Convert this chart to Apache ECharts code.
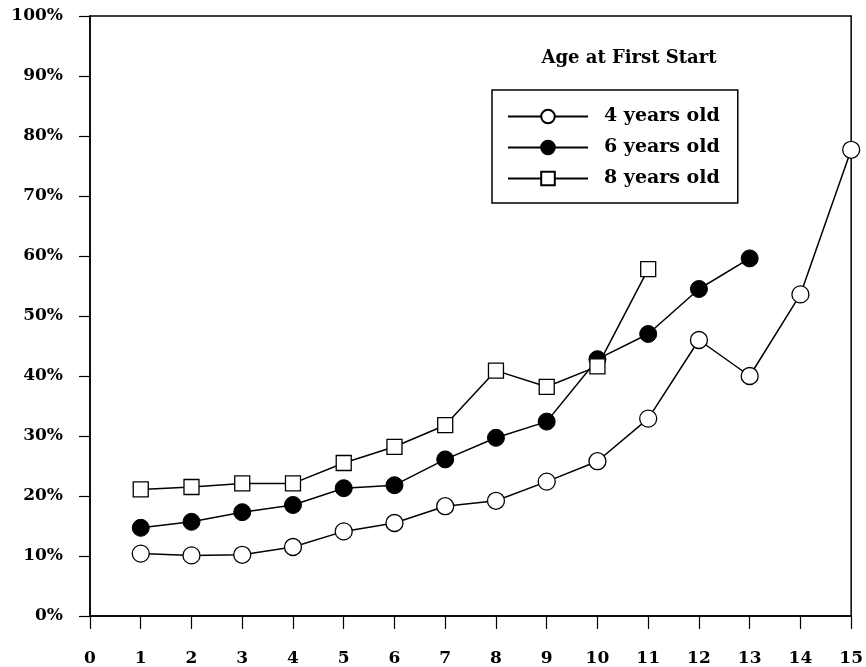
<!DOCTYPE html>
<html>
<head>
<meta charset="UTF-8">
<title>Age at First Start</title>
<script src="https://cdn.jsdelivr.net/npm/echarts@6/dist/echarts.min.js"></script>
</head>
<body style="margin:0;background:#fff">
<div id="main" style="width: 866px; height: 667px;"></div>
<script type="text/javascript">
// x positions (1..15)
var xValues = [1, 2, 3, 4, 5, 6, 7, 8, 9, 10, 11, 12, 13, 14, 15];
// percent values
var age4 = [10.4, 10.1, 10.2, 11.5, 14.1, 15.5, 18.3, 19.2, 22.4, 25.8, 32.9, 46.0, 40.0, 53.6, 77.7];
var age6 = [14.7, 15.7, 17.3, 18.5, 21.3, 21.8, 26.1, 29.7, 32.4, 42.8, 47.0, 54.5, 59.6];
var age8 = [21.1, 21.5, 22.1, 22.1, 25.5, 28.2, 31.8, 40.9, 38.2, 41.6, 57.8];
var seriesNames = ['4 years old', '6 years old', '8 years old'];

function pairs(vals) {
	var out = [];
	for (var i = 0; i < vals.length; i++) {
		out.push([xValues[i], vals[i]]);
	}
	return out;
}

var font = 'DejaVu Serif';
var myChart = echarts.init(document.getElementById('main'));

var option = {
	backgroundColor: '#fff',
	animation: false,
	title: {
		text: 'Age at First Start',
		left: 624,
		top: 44,
		textAlign: 'center',
		textStyle: { fontFamily: font, fontWeight: 'bold', fontSize: 18, color: '#000' }
	},
	legend: {
		orient: 'vertical',
		left: 492,
		top: 90,
		padding: [17, 18, 15, 15],
		itemGap: 12,
		itemWidth: 80,
		itemHeight: 17,
		borderColor: '#000',
		borderWidth: 1.5,
		data: seriesNames,
		textStyle: { fontFamily: font, fontWeight: 'bold', fontSize: 19, lineHeight: 19, color: '#000', padding: [0, 0, 0, 11] }
	},
	grid: {
		left: 90,
		right: 11,
		top: 16,
		bottom: 50.5,
		show: true,
		borderColor: '#000',
		borderWidth: 1.5
	},
	xAxis: {
		type: 'value',
		min: 0,
		max: 15,
		interval: 1,
		splitLine: { show: false },
		axisLine: { lineStyle: { color: '#000', width: 1.5 } },
		axisTick: { length: 13, lineStyle: { color: '#000', width: 1.2 } },
		axisLabel: { margin: 34, color: '#000', fontFamily: font, fontWeight: 'bold', fontSize: 17 }
	},
	yAxis: {
		type: 'value',
		min: 0,
		max: 100,
		interval: 10,
		splitLine: { show: false },
		axisLine: { lineStyle: { color: '#000', width: 1.5 } },
		axisTick: { length: 11, lineStyle: { color: '#000', width: 1.2 } },
		axisLabel: { margin: 27, color: '#000', fontFamily: font, fontWeight: 'bold', fontSize: 17, formatter: '{value}%' }
	},
	series: [
		{
			name: seriesNames[0],
			type: 'line',
			data: pairs(age4),
			clip: false,
			symbol: 'circle',
			symbolSize: 17,
			lineStyle: { color: '#000', width: 1.5 },
			itemStyle: { color: '#fff', borderColor: '#000', borderWidth: 1.3 },
			z: 3
		},
		{
			name: seriesNames[1],
			type: 'line',
			data: pairs(age6),
			clip: false,
			symbol: 'circle',
			symbolSize: 17,
			lineStyle: { color: '#000', width: 1.5 },
			itemStyle: { color: '#000', borderColor: '#000', borderWidth: 1 },
			z: 2
		},
		{
			name: seriesNames[2],
			type: 'line',
			data: pairs(age8),
			clip: false,
			symbol: 'rect',
			symbolSize: 15,
			lineStyle: { color: '#000', width: 1.5 },
			itemStyle: { color: '#fff', borderColor: '#000', borderWidth: 1.3 },
			z: 4
		}
	]
};

myChart.setOption(option);
</script>
</body>
</html>
